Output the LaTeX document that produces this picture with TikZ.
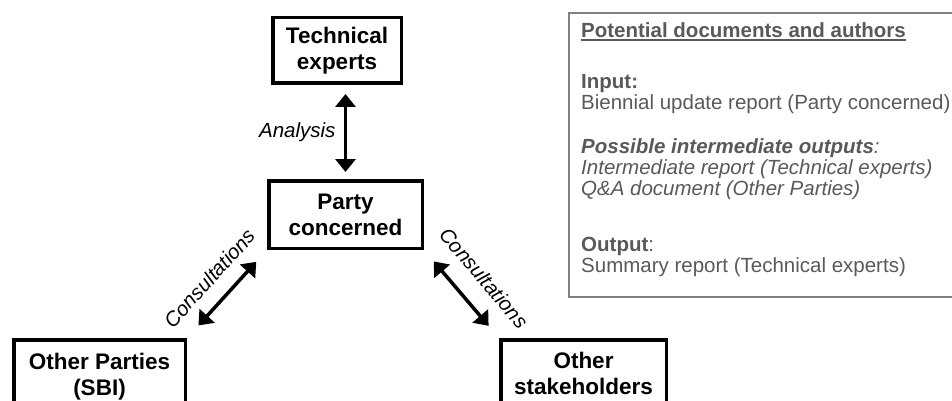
\documentclass[tikz,border=0pt]{standalone}
\usepackage{fontspec}
\setmainfont{Liberation Sans}
\usetikzlibrary{arrows.meta}
\definecolor{notegray}{HTML}{595959}
\definecolor{framegray}{HTML}{808080}
\newcommand{\ulined}[1]{\setbox0\hbox{#1}\rlap{\rule[-4pt]{\wd0}{1.6pt}}\box0}
\begin{document}
\begin{tikzpicture}[x=1pt,y=-1pt,
        party/.style={draw,line width=3.5pt,align=center,inner sep=0pt,
            font=\fontsize{22.5}{26}\selectfont\bfseries},
        link/.style={line width=3.5pt,
            {Triangle[width=20pt,length=13pt]}-{Triangle[width=20pt,length=13pt]}},
        linklabel/.style={font=\fontsize{20.5}{24}\selectfont\itshape}]
    \clip (0,0) rectangle (952,401);
    %% actors
    \node[party,minimum width=128.5pt,minimum height=65.5pt] (experts) at (337,50.5) {Technical\\experts};
    \node[party,minimum width=153.5pt,minimum height=67.5pt] (concerned) at (345.5,214.5) {Party\\concerned};
    \node[party,minimum width=171.5pt,minimum height=74.5pt] (sbi) at (99.5,377) {Other Parties\\(SBI)};
    \node[party,minimum width=165.5pt,minimum height=66.5pt] (stake) at (583.5,373) {Other\\stakeholders};
    %% links
    \draw[link,shorten <=9pt,shorten >=7pt] (experts.south -| concerned.north) -- (concerned.north)
        node[linklabel,midway,left=5pt] {Analysis};
    \draw[link,shorten <=16pt,shorten >=17pt] (concerned.south west) -- (sbi.north east)
        node[linklabel,midway,sloped,above=11pt] {Consultations};
    \draw[link,shorten <=15pt,shorten >=16pt] (concerned.south east) -- (stake.north west)
        node[linklabel,pos=0.52,sloped,above=15pt] {Consultations};
    %% documents panel
    \draw[framegray,line width=1.5pt] (569,13) rectangle (970,297);
    \node[anchor=base west,inner sep=0pt,align=left,text=notegray,
        font=\fontsize{20.5}{21}\selectfont] (docs) at (581,272)
        {\ulined{\textbf{Potential documents and authors}}\\[30pt]
         \textbf{Input:}\\
         Biennial update report (Party concerned)\\[23pt]
         \textbf{\textit{Possible intermediate outputs}}\textit{:}\\
         \textit{Intermediate report (Technical experts)}\\
         \textit{Q\&A document (Other Parties)}\\[35pt]
         \textbf{Output}:\\
         Summary report (Technical experts)};
\end{tikzpicture}
\end{document}
